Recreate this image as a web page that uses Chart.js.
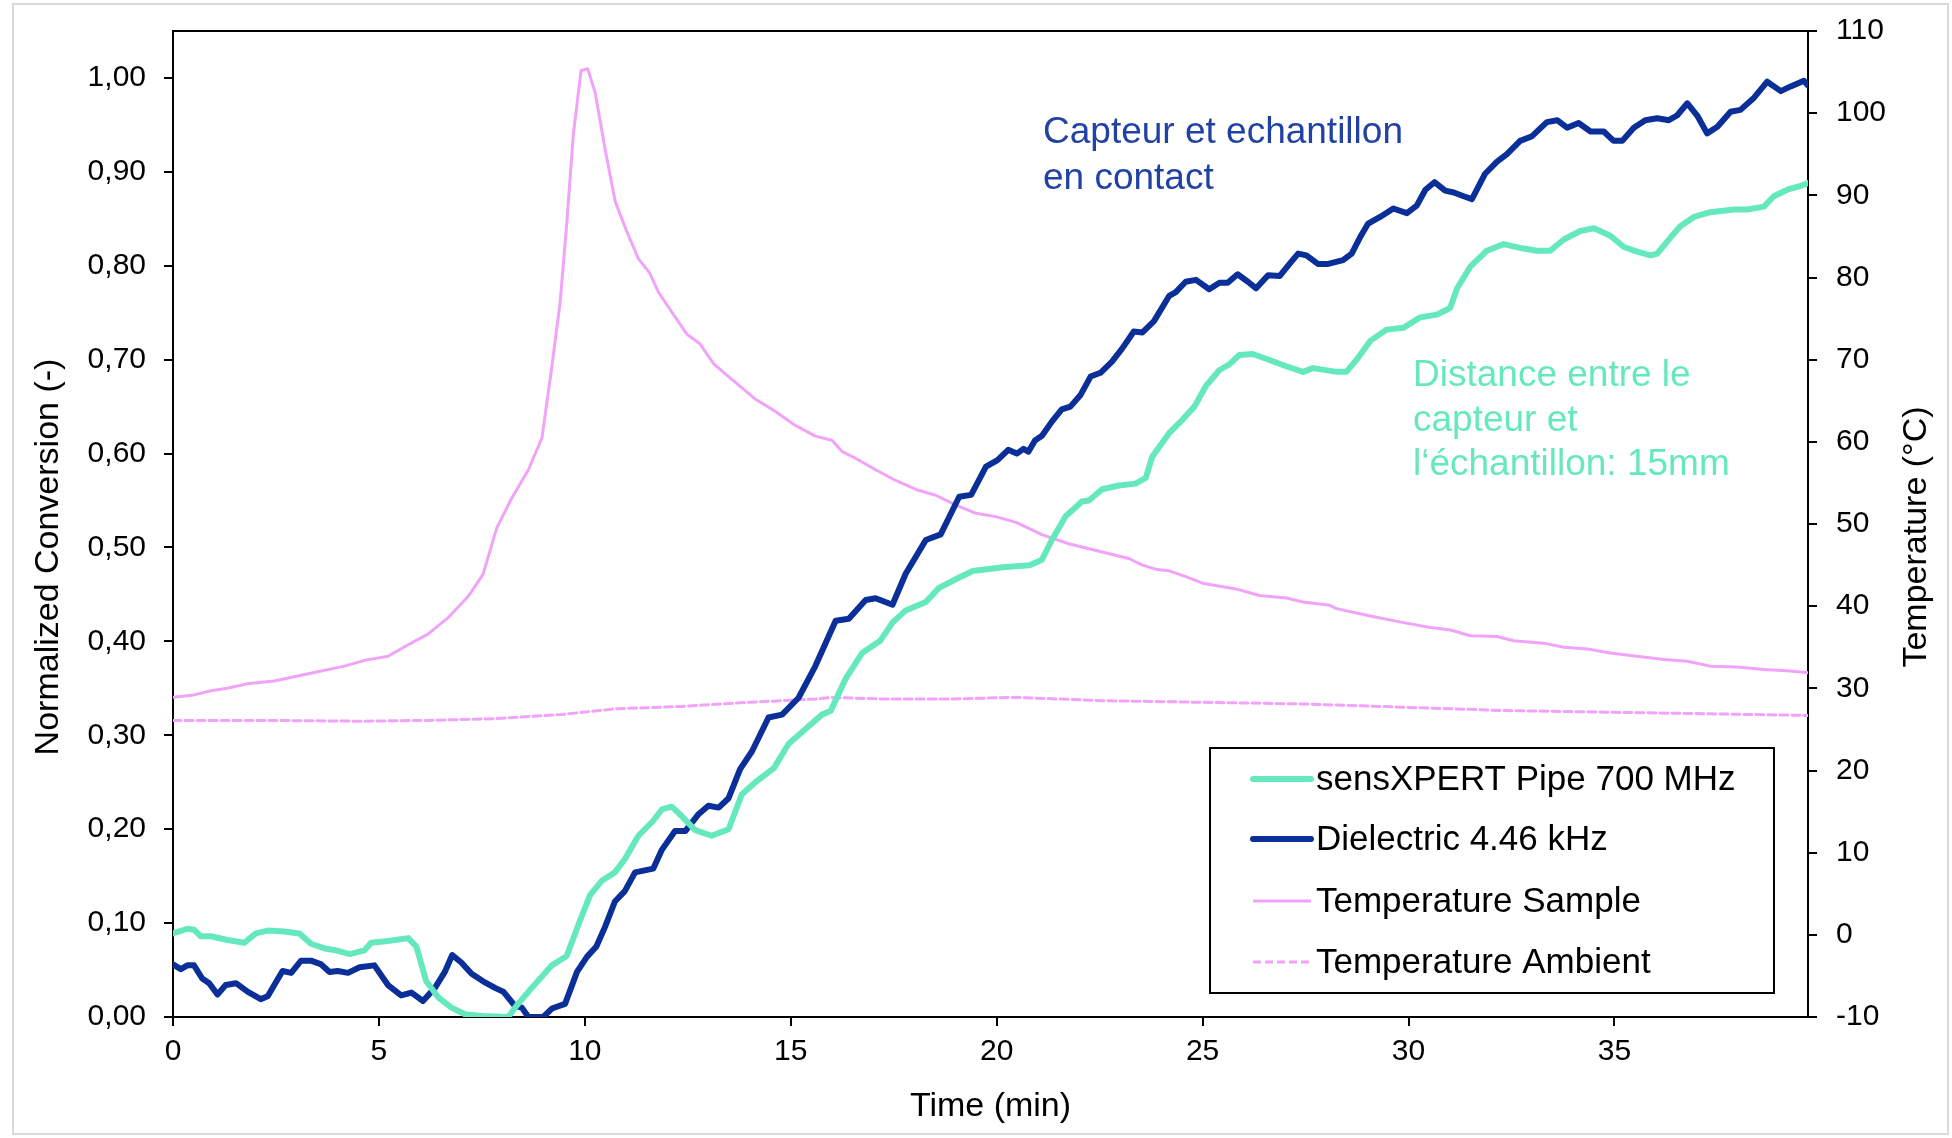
<!DOCTYPE html>
<html>
<head>
<meta charset="utf-8">
<script src="https://cdn.jsdelivr.net/npm/chart.js@4.4.1/dist/chart.umd.min.js"></script>
<style>
  html, body { margin: 0; padding: 0; background: #fff; }
  canvas { display: block; }
</style>
</head>
<body>
<canvas id="cure-chart" width="1952" height="1138"></canvas>
<script>
// sensXPERT Pipe 700 MHz, normalized conversion vs time (min)
const sensTime = [
	0, 0.35, 0.51, 0.67, 0.92, 1.32, 1.73, 2.01, 2.3, 2.7, 3.07, 3.35, 3.68, 3.96, 4.29, 4.65, 4.81, 5.22, 5.71, 5.91,
	6.15, 6.44, 6.76, 7.09, 7.49, 8.14, 8.34, 8.71, 9.2, 9.56, 9.85, 10.13, 10.41, 10.73, 10.97, 11.3, 11.66, 11.87, 12.11, 12.35,
	12.68, 13.08, 13.49, 13.81, 14.14, 14.59, 14.95, 15.44, 15.76, 15.97, 16.33, 16.74, 17.18, 17.47, 17.79, 18.28, 18.6, 19.09, 19.42, 20.15,
	20.8, 21.1, 21.34, 21.67, 22.07, 22.24, 22.56, 22.97, 23.37, 23.62, 23.78, 24.19, 24.51, 24.8, 25.08, 25.41, 25.65, 25.89, 26.22, 26.54,
	27.03, 27.44, 27.68, 28.25, 28.49, 28.74, 29.07, 29.47, 29.88, 30.28, 30.69, 31.01, 31.18, 31.5, 31.9, 32.31, 32.71, 33.12, 33.44, 33.77,
	34.17, 34.5, 34.9, 35.23, 35.55, 35.88, 36.04, 36.36, 36.6, 36.93, 37.33, 37.9, 38.23, 38.63, 38.87, 39.2, 39.52, 39.7,
];
const sensConv = [
	0.089, 0.094, 0.093, 0.086, 0.086, 0.082, 0.079, 0.089, 0.092, 0.091, 0.089, 0.078, 0.073, 0.071, 0.067, 0.071, 0.079, 0.081, 0.084, 0.075,
	0.038, 0.021, 0.010, 0.003, 0.001, 0.000, 0.012, 0.031, 0.055, 0.065, 0.099, 0.130, 0.145, 0.154, 0.168, 0.193, 0.209, 0.221, 0.224, 0.214,
	0.199, 0.193, 0.200, 0.237, 0.250, 0.265, 0.291, 0.310, 0.322, 0.326, 0.360, 0.388, 0.401, 0.420, 0.433, 0.442, 0.457, 0.468, 0.475, 0.479,
	0.481, 0.487, 0.508, 0.533, 0.549, 0.550, 0.562, 0.566, 0.568, 0.574, 0.597, 0.622, 0.636, 0.650, 0.672, 0.689, 0.695, 0.705, 0.706, 0.701,
	0.693, 0.687, 0.691, 0.687, 0.687, 0.700, 0.720, 0.732, 0.734, 0.745, 0.748, 0.755, 0.776, 0.799, 0.816, 0.823, 0.819, 0.816, 0.816, 0.828,
	0.837, 0.840, 0.832, 0.820, 0.815, 0.811, 0.813, 0.830, 0.842, 0.852, 0.857, 0.860, 0.860, 0.863, 0.874, 0.881, 0.885, 0.888,
];

// Dielectric 4.46 kHz, normalized conversion vs time (min)
const dielTime = [
	0, 0.19, 0.35, 0.51, 0.71, 0.88, 1.08, 1.28, 1.53, 1.81, 2.13, 2.3, 2.46, 2.66, 2.87, 3.11, 3.35, 3.6, 3.8, 4.0,
	4.25, 4.53, 4.89, 5.22, 5.54, 5.79, 6.07, 6.36, 6.6, 6.78, 7.0, 7.25, 7.53, 7.82, 8.02, 8.3, 8.47, 8.63, 8.99, 9.2,
	9.52, 9.81, 10.05, 10.28, 10.49, 10.73, 10.97, 11.22, 11.66, 11.87, 12.19, 12.44, 12.76, 13.0, 13.25, 13.49, 13.77, 14.06, 14.46, 14.79,
	15.19, 15.6, 16.09, 16.41, 16.82, 17.06, 17.47, 17.79, 18.28, 18.64, 19.09, 19.38, 19.74, 20.02, 20.28, 20.49, 20.65, 20.77, 20.93, 21.1,
	21.34, 21.58, 21.79, 22.03, 22.28, 22.52, 22.8, 23.05, 23.33, 23.54, 23.82, 24.19, 24.35, 24.59, 24.84, 25.16, 25.41, 25.61, 25.85, 26.1,
	26.3, 26.59, 26.87, 27.11, 27.32, 27.52, 27.8, 28.05, 28.41, 28.62, 28.82, 29.02, 29.31, 29.63, 29.96, 30.2, 30.41, 30.63, 30.89, 31.1,
	31.34, 31.54, 31.86, 32.15, 32.39, 32.71, 33.0, 33.36, 33.61, 33.85, 34.13, 34.42, 34.74, 34.98, 35.19, 35.47, 35.75, 36.04, 36.32, 36.52,
	36.77, 37.01, 37.25, 37.5, 37.82, 38.06, 38.39, 38.71, 39.04, 39.28, 39.6, 39.7,
];
const dielConv = [
	0.056, 0.051, 0.055, 0.055, 0.041, 0.036, 0.024, 0.034, 0.036, 0.027, 0.019, 0.022, 0.034, 0.049, 0.047, 0.060, 0.060, 0.056, 0.048, 0.049,
	0.047, 0.053, 0.055, 0.034, 0.023, 0.026, 0.017, 0.031, 0.048, 0.066, 0.058, 0.046, 0.038, 0.031, 0.027, 0.012, 0.010, 0.000, 0.000, 0.009,
	0.014, 0.048, 0.064, 0.075, 0.096, 0.123, 0.134, 0.154, 0.158, 0.178, 0.198, 0.198, 0.216, 0.225, 0.223, 0.233, 0.264, 0.283, 0.319, 0.322,
	0.340, 0.374, 0.422, 0.424, 0.444, 0.446, 0.439, 0.472, 0.508, 0.514, 0.554, 0.556, 0.586, 0.593, 0.604, 0.600, 0.605, 0.602, 0.614, 0.619,
	0.634, 0.647, 0.650, 0.662, 0.682, 0.686, 0.698, 0.712, 0.730, 0.729, 0.741, 0.768, 0.772, 0.783, 0.785, 0.775, 0.782, 0.782, 0.791, 0.783,
	0.776, 0.790, 0.789, 0.802, 0.813, 0.811, 0.802, 0.802, 0.806, 0.813, 0.830, 0.845, 0.852, 0.861, 0.856, 0.864, 0.881, 0.889, 0.880, 0.878,
	0.874, 0.871, 0.898, 0.911, 0.919, 0.933, 0.938, 0.953, 0.955, 0.947, 0.952, 0.943, 0.943, 0.933, 0.933, 0.947, 0.955, 0.957, 0.955, 0.960,
	0.973, 0.960, 0.941, 0.948, 0.964, 0.966, 0.979, 0.996, 0.986, 0.991, 0.997, 0.992,
];

// Temperature Sample (°C) vs time (min)
const sampleTime = [
	0, 0.51, 0.92, 1.32, 1.85, 2.46, 3.03, 3.6, 4.16, 4.65, 5.22, 5.71, 6.19, 6.68, 7.17, 7.53, 7.86, 8.22, 8.63, 8.96,
	9.2, 9.4, 9.56, 9.72, 9.91, 10.07, 10.25, 10.5, 10.74, 11.01, 11.3, 11.58, 11.79, 12.11, 12.48, 12.8, 13.13, 13.57, 14.14, 14.63,
	15.11, 15.6, 16.0, 16.25, 16.57, 17.06, 17.55, 18.04, 18.52, 19.01, 19.5, 19.98, 20.47, 21.1, 21.75, 22.56, 23.21, 23.54, 23.86, 24.19,
	24.59, 25.0, 25.81, 26.38, 27.03, 27.44, 28.09, 28.25, 29.07, 29.88, 30.53, 31.02, 31.5, 32.15, 32.55, 33.28, 33.77, 34.34, 34.9, 35.55,
	36.2, 36.77, 37.33, 37.98, 38.63, 39.28, 39.7,
];
const sampleTemp = [
	28.9, 29.2, 29.7, 30.0, 30.6, 30.9, 31.5, 32.1, 32.7, 33.4, 33.9, 35.3, 36.6, 38.6, 41.2, 43.9, 49.5, 53.1, 56.6, 60.5,
	69.2, 77.0, 86.5, 97.4, 105.2, 105.4, 102.5, 95.4, 89.2, 85.7, 82.3, 80.5, 78.2, 75.8, 73.1, 71.9, 69.5, 67.6, 65.2, 63.7,
	62.0, 60.7, 60.2, 58.8, 58.0, 56.6, 55.3, 54.2, 53.5, 52.3, 51.3, 50.9, 50.2, 48.7, 47.6, 46.6, 45.8, 45.0, 44.5, 44.3,
	43.6, 42.8, 42.1, 41.3, 41.0, 40.5, 40.1, 39.7, 38.8, 38.0, 37.4, 37.1, 36.4, 36.3, 35.8, 35.5, 35.0, 34.8, 34.3, 33.9,
	33.5, 33.3, 32.7, 32.6, 32.3, 32.1, 31.9,
];

// Temperature Ambient (°C) vs time (min)
const ambientTime = [
	0, 2.13, 4.57, 6.19, 7.82, 9.4, 10.73, 12.35, 13.98, 15.6, 16.0, 17.2, 18.85, 20.47, 22.56, 25.0, 27.44, 29.88, 32.3, 34.8,
	37.3, 39.7,
];
const ambientTemp = [
	26.1, 26.1, 26.0, 26.1, 26.3, 26.8, 27.5, 27.8, 28.3, 28.7, 28.9, 28.7, 28.7, 28.9, 28.5, 28.3, 28.1, 27.7, 27.3, 27.1,
	26.9, 26.7,
];

const xTicksStep = 5;
const convTicksStep = 0.1;
const tempTicksStep = 10;

const GREEN = '#66e8bf';
const NAVY = '#0b2f98';
const PINK = '#f0a3f8';
const FONT = '"Liberation Sans", Arial, sans-serif';

const toPoints = ( xs, ys ) => xs.map( ( x, i ) => ( { x, y: ys[ i ] } ) );

// Excel style frame, box legend, rotated axis titles and text notes
const decorations = {
	id: 'decorations',
	beforeDraw( chart ) {
		const { ctx, width, height } = chart;
		ctx.save();
		ctx.fillStyle = '#fff';
		ctx.fillRect( 0, 0, width, height );
		ctx.strokeStyle = '#d9d9d9';
		ctx.lineWidth = 2;
		ctx.strokeRect( 13, 4, width - 17, height - 8 );
		ctx.restore();
	},
	afterDraw( chart ) {
		const { ctx, chartArea } = chart;
		ctx.save();

		// plot area top border
		ctx.strokeStyle = '#000';
		ctx.lineWidth = 2;
		ctx.beginPath();
		ctx.moveTo( chartArea.left, chartArea.top );
		ctx.lineTo( chartArea.right, chartArea.top );
		ctx.stroke();

		// y axis titles, both read bottom to top
		ctx.fillStyle = '#000';
		ctx.font = `34px ${ FONT }`;
		ctx.textAlign = 'center';
		ctx.textBaseline = 'middle';
		[
			[ 'Normalized Conversion (-)', 49, 557 ],
			[ 'Temperature (°C)', 1917, 537 ],
		].forEach( ( [ text, x, y ] ) => {
			ctx.save();
			ctx.translate( x, y );
			ctx.rotate( -Math.PI / 2 );
			ctx.fillText( text, 0, 0 );
			ctx.restore();
		} );

		// text notes
		ctx.textAlign = 'left';
		ctx.textBaseline = 'alphabetic';
		ctx.font = `37px ${ FONT }`;
		ctx.fillStyle = '#2142a5';
		ctx.fillText( 'Capteur et echantillon', 1043, 143 );
		ctx.fillText( 'en contact', 1043, 189 );
		ctx.fillStyle = GREEN;
		ctx.fillText( 'Distance entre le', 1413, 386 );
		ctx.fillText( 'capteur et', 1413, 431 );
		ctx.fillText( 'l‘échantillon: 15mm', 1413, 475 );

		// legend box
		ctx.fillStyle = '#fff';
		ctx.fillRect( 1210, 748, 564, 245 );
		ctx.strokeStyle = '#000';
		ctx.lineWidth = 2;
		ctx.strokeRect( 1210, 748, 564, 245 );
		const rows = [ 779, 839, 901, 962 ];
		ctx.font = `35px ${ FONT }`;
		ctx.textBaseline = 'middle';
		chart.data.datasets.forEach( ( ds, i ) => {
			ctx.save();
			ctx.strokeStyle = ds.borderColor;
			ctx.lineWidth = ds.borderWidth;
			ctx.lineCap = ds.borderWidth > 3 ? 'round' : 'butt';
			ctx.setLineDash( ds.borderDash || [] );
			ctx.beginPath();
			ctx.moveTo( 1253, rows[ i ] );
			ctx.lineTo( 1311, rows[ i ] );
			ctx.stroke();
			ctx.restore();
			ctx.fillStyle = '#000';
			ctx.fillText( ds.label, 1316, rows[ i ] + 1 );
		} );
		ctx.restore();
	},
};

const tickFont = { family: FONT, size: 30 };

// fixed axis box sizes so the plot area sits where the original one does
const fitSide = ( width ) => ( scale ) => {
	scale.width = width;
	scale.paddingTop = 0;
	scale.paddingBottom = 0;
};

new Chart( document.getElementById( 'cure-chart' ), {
	type: 'line',
	data: {
		datasets: [
			{
				label: 'sensXPERT Pipe 700 MHz',
				data: toPoints( sensTime, sensConv ),
				yAxisID: 'y',
				borderColor: GREEN,
				borderWidth: 6,
			},
			{
				label: 'Dielectric 4.46 kHz',
				data: toPoints( dielTime, dielConv ),
				yAxisID: 'y',
				borderColor: NAVY,
				borderWidth: 6,
			},
			{
				label: 'Temperature Sample',
				data: toPoints( sampleTime, sampleTemp ),
				yAxisID: 'y2',
				borderColor: PINK,
				borderWidth: 3,
			},
			{
				label: 'Temperature Ambient',
				data: toPoints( ambientTime, ambientTemp ),
				yAxisID: 'y2',
				borderColor: PINK,
				borderWidth: 3,
				borderDash: [ 8, 4 ],
			},
		],
	},
	options: {
		responsive: false,
		animation: false,
		layout: { padding: { top: 31, left: 0, right: 0, bottom: 0 } },
		elements: {
			point: { radius: 0 },
			line: { tension: 0, borderJoinStyle: 'round', borderCapStyle: 'round' },
		},
		plugins: {
			legend: { display: false },
			tooltip: { enabled: false },
		},
		scales: {
			x: {
				type: 'linear',
				min: 0,
				max: 39.7,
				afterFit: ( scale ) => {
					scale.height = 121;
				},
				border: { display: true, color: '#000', width: 2 },
				grid: { drawOnChartArea: false, drawTicks: true, tickLength: 9, color: '#000', lineWidth: 2 },
				ticks: {
					stepSize: xTicksStep,
					includeBounds: false,
					color: '#000',
					font: tickFont,
					padding: 8,
					maxRotation: 0,
				},
				title: {
					display: true,
					text: 'Time (min)',
					color: '#000',
					font: { family: FONT, size: 34 },
					padding: { top: 0, bottom: 11 },
				},
			},
			y: {
				position: 'left',
				min: 0,
				max: 1.05,
				afterFit: fitSide( 173 ),
				border: { display: true, color: '#000', width: 2 },
				grid: { drawOnChartArea: false, drawTicks: true, tickLength: 9, color: '#000', lineWidth: 2 },
				ticks: {
					stepSize: convTicksStep,
					includeBounds: false,
					color: '#000',
					font: tickFont,
					padding: 18,
					callback: ( v ) => v.toFixed( 2 ).replace( '.', ',' ),
				},
			},
			y2: {
				position: 'right',
				min: -10,
				max: 110,
				afterFit: fitSide( 144 ),
				border: { display: true, color: '#000', width: 2 },
				grid: { drawOnChartArea: false, drawTicks: true, tickLength: 9, color: '#000', lineWidth: 2 },
				ticks: {
					stepSize: tempTicksStep,
					color: '#000',
					font: tickFont,
					padding: 19,
				},
			},
		},
	},
	plugins: [ decorations ],
} );
</script>
</body>
</html>
